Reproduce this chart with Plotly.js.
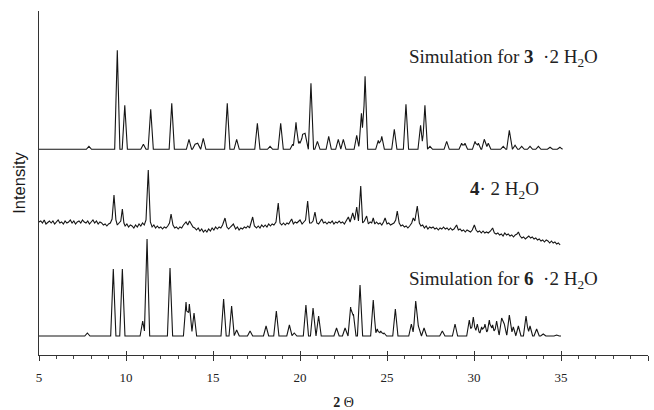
<!DOCTYPE html>
<html>
<head>
<meta charset="utf-8">
<script src="https://cdn.plot.ly/plotly-3.0.1.min.js"></script>
<style>
  html, body { margin: 0; padding: 0; background: #fff; }
  #chart { width: 654px; height: 410px; }
</style>
</head>
<body>
<div id="chart"></div>
<script>
// ---- Data (2θ in degrees, relative intensity) ----
// Simulated pattern for 3·2H2O: peak positions and heights
const sim3Pos = [7.87, 9.50, 9.93, 11.00, 11.42, 12.63, 13.62, 13.97, 14.12, 14.44,
  15.82, 16.36, 17.55, 18.28, 18.89, 19.58, 19.77, 19.96, 20.15, 20.29,
  20.63, 21.00, 21.65, 22.20, 22.49, 23.26, 23.53, 23.74, 24.50, 24.70,
  25.42, 26.09, 26.93, 27.18, 27.47, 28.43, 29.29, 29.48, 30.06, 30.25,
  30.59, 30.82, 31.68, 32.03, 32.36, 32.74, 33.22, 33.70, 34.37, 34.94];
const sim3Int = [3, 99, 44, 5, 40, 46, 10, 5, 6, 11,
  46, 10, 26, 3, 26, 5, 27, 8, 15, 16,
  66, 8, 13, 10, 10, 14, 36, 73, 9, 13,
  20, 45, 24, 44, 3, 8, 6, 6, 8, 6,
  10, 6, 3, 19, 4, 3, 3, 3, 2, 2];

// Measured pattern for 4·2H2O (noisy experimental trace)
const exp4X = [5.0,5.1,5.2,5.3,5.4,5.5,5.6,5.7,5.8,5.9,6.0,6.1,6.2,6.3,6.4,6.5,6.6,6.7,6.8,6.9,
  7.0,7.1,7.2,7.3,7.4,7.5,7.6,7.7,7.8,7.9,8.0,8.1,8.2,8.3,8.4,8.5,8.6,8.7,8.8,8.9,9.0,
  9.1,9.2,9.31,9.42,9.5,9.6,9.7,9.79,9.88,9.95,10.05,10.15,10.25,10.35,10.45,10.55,10.65,10.75,10.85,10.95,
  11.05,11.15,11.28,11.4,11.5,11.6,11.7,11.8,11.9,12.0,12.1,12.2,12.3,12.4,12.5,12.59,12.7,12.8,12.9,13.0,
  13.1,13.2,13.3,13.45,13.55,13.65,13.75,13.85,13.95,14.05,14.15,14.25,14.35,14.45,14.55,14.65,14.75,14.85,14.95,
  15.05,15.15,15.25,15.35,15.45,15.55,15.69,15.8,15.9,16.0,16.17,16.3,16.4,16.5,16.6,16.7,16.8,16.9,17.0,17.1,
  17.18,17.28,17.38,17.5,17.6,17.7,17.8,17.9,18.0,18.1,18.2,18.3,18.4,18.5,18.62,18.75,18.85,18.95,19.05,19.15,
  19.25,19.35,19.52,19.62,19.72,19.82,20.0,20.12,20.22,20.32,20.44,20.55,20.65,20.75,20.86,20.97,21.07,21.15,21.25,
  21.35,21.45,21.55,21.65,21.75,21.85,21.95,22.05,22.15,22.25,22.35,22.45,22.55,22.65,22.78,22.88,23.03,23.14,23.26,
  23.36,23.49,23.6,23.7,23.83,23.93,24.03,24.12,24.21,24.3,24.4,24.5,24.6,24.7,24.8,24.89,25.0,25.1,25.2,25.3,25.4,
  25.5,25.59,25.7,25.8,25.9,26.0,26.1,26.2,26.3,26.42,26.51,26.6,26.74,26.86,26.95,27.05,27.15,27.25,27.35,27.45,
  27.55,27.65,27.75,27.85,27.95,28.05,28.15,28.25,28.35,28.45,28.55,28.65,28.75,28.85,29.0,29.1,29.2,29.3,29.4,29.5,
  29.6,29.7,29.8,29.9,30.02,30.12,30.22,30.32,30.42,30.52,30.62,30.72,30.82,30.95,31.07,31.17,31.27,31.37,31.47,31.57,
  31.67,31.77,31.87,31.97,32.07,32.17,32.27,32.37,32.47,32.55,32.65,32.75,32.85,32.95,33.05,33.15,33.25,33.35,33.45,
  33.55,33.65,33.75,33.85,33.95,34.05,34.15,34.25,34.35,34.45,34.55,34.65,34.75,34.85,34.95];
const exp4Y = [0,1,-1,2,-2,0,1,-1,1,-2,0,2,-1,0,-2,1,-1,0,2,-1,
  1,-2,0,1,-1,2,0,-1,1,-2,0,2,-1,1,-2,0,-1,-3,-2,-4,-2,
  -1,3,27,2,-3,-1,1,13,-1,-4,-2,-5,-3,-4,-6,-3,-5,-2,-4,-1,
  -3,2,52,0,-5,-3,-6,-4,-6,-5,-7,-5,-6,-4,-1,8,-3,-6,-5,-7,
  -5,-6,-3,0,-3,1,-2,-5,-6,-8,-6,-9,-7,-10,-8,-10,-7,-9,-6,
  -8,-5,-7,-5,-6,-3,4,-5,-7,-5,-2,-7,-5,-8,-6,-7,-5,-6,-4,-6,
  -2,5,-4,-6,-4,-6,-3,-5,-3,-5,-2,-4,-2,-3,0,19,-1,-3,-1,-3,
  -1,-2,3,-2,0,-1,2,-2,0,2,21,-1,-1,1,10,-1,-2,1,3,
  -1,0,-2,0,-1,1,-2,0,-1,1,-1,0,-2,1,5,0,9,2,15,
  1,36,-1,1,6,-2,0,-1,4,-2,0,-2,-1,-3,0,4,-2,-1,-3,-2,-1,
  2,11,-1,-4,-3,-5,-4,-6,-4,-1,4,1,16,-1,-4,-3,-6,-4,-7,-5,
  -6,-5,-7,-6,-8,-6,-7,-5,-7,-6,-8,-6,-8,-7,-3,-8,-7,-9,-8,-10,
  -8,-9,-10,-8,-3,-8,-10,-9,-11,-9,-11,-10,-11,-9,-6,-11,-12,-11,-13,-12,
  -14,-11,-13,-12,-14,-13,-15,-13,-12,-10,-14,-16,-15,-17,-15,-14,-16,-15,-17,
  -16,-18,-17,-19,-18,-20,-18,-19,-21,-19,-21,-20,-22,-21,-23];

// Simulated pattern for 6·2H2O: peak positions and heights
const sim6Pos = [7.78, 9.27, 9.79, 10.96, 11.21, 12.53, 13.45, 13.64, 13.91, 15.61,
  16.07, 16.36, 17.13, 18.05, 18.64, 19.39, 19.67, 20.34, 20.75, 21.07,
  22.10, 22.59, 22.91, 23.07, 23.45, 24.21, 24.44, 24.64, 24.83, 25.48,
  26.40, 26.65, 26.80, 27.13, 28.18, 28.91, 29.73, 29.96, 30.19, 30.44,
  30.63, 30.88, 31.07, 31.30, 31.59, 31.74, 32.03, 32.26, 32.55, 32.99,
  33.22, 33.60, 33.98, 34.75];
const sim6Int = [3, 67, 67, 15, 97, 68, 34, 32, 23, 37,
  30, 6, 5, 10, 25, 11, 3, 31, 28, 20,
  8, 8, 29, 22, 51, 36, 7, 5, 3, 27,
  12, 35, 10, 8, 5, 12, 16, 19, 12, 9,
  12, 16, 11, 15, 18, 12, 21, 9, 10, 20,
  10, 7, 2, 1];

const xStart = 5, xEnd = 35;
const tickLabels = ['5', '10', '15', '20', '25', '30', '35', '40'];
const tickValues = [5, 10, 15, 20, 25, 30, 35, 40];

// ---- Layout constants (vertical stacking offsets, peak drawing half-width) ----
const OFF_TOP = 205.7, OFF_MID = 133, OFF_BOT = 19;
const HW = 0.15;

function stickPattern(pos, inten, offset) {
  const xs = [xStart, xEnd];
  pos.forEach(p => { xs.push(p - HW, p, p + HW); });
  xs.sort((a, b) => a - b);
  const ys = xs.map(x => {
    let m = 0;
    pos.forEach((p, i) => {
      const v = inten[i] * Math.max(0, 1 - Math.abs(x - p) / HW);
      if (v > m) m = v;
    });
    return m + offset;
  });
  return { x: xs, y: ys };
}

const patTop = stickPattern(sim3Pos, sim3Int, OFF_TOP);
const patBot = stickPattern(sim6Pos, sim6Int, OFF_BOT);
const lineStyle = { color: '#151515', width: 1.1 };

const traces = [
  { x: patTop.x, y: patTop.y, type: 'scatter', mode: 'lines', line: lineStyle, hoverinfo: 'skip' },
  { x: exp4X, y: exp4Y.map(v => v + OFF_MID), type: 'scatter', mode: 'lines', line: lineStyle, hoverinfo: 'skip' },
  { x: patBot.x, y: patBot.y, type: 'scatter', mode: 'lines', line: lineStyle, hoverinfo: 'skip' },
  { x: [], y: [], xaxis: 'x2', yaxis: 'y', type: 'scatter', mode: 'lines', hoverinfo: 'skip' }
];

const serif = '"Liberation Serif", "Times New Roman", serif';
const nb = '\u00a0';

const layout = {
  width: 654, height: 410,
  margin: { l: 39, r: 6, t: 11, b: 55 },
  paper_bgcolor: '#ffffff', plot_bgcolor: '#ffffff',
  showlegend: false,
  xaxis: {
    range: [5, 40], showgrid: false, zeroline: false,
    showline: true, linecolor: '#333', linewidth: 1,
    tickmode: 'array', tickvals: tickValues, ticktext: tickLabels,
    ticks: 'outside', ticklen: 5, tickcolor: '#333', tickwidth: 1,
    minor: { dtick: 1, tick0: 5, ticks: 'outside', ticklen: 3, tickcolor: '#444' },
    tickfont: { family: serif, size: 13, color: '#222' },
    ticklabelstandoff: 5,
    title: { text: '<b>2</b> Θ', font: { family: serif, size: 14, color: '#222' }, standoff: 14 },
    automargin: false
  },
  xaxis2: {
    range: [5, 40], overlaying: 'x', anchor: 'y', side: 'bottom',
    showgrid: false, zeroline: false, showline: false, showticklabels: false,
    tickmode: 'array', tickvals: tickValues,
    ticks: 'inside', ticklen: 4, tickcolor: '#333', tickwidth: 1
  },
  yaxis: {
    range: [0, 344], showgrid: false, zeroline: false,
    showline: true, linecolor: '#333', linewidth: 1,
    ticks: '', showticklabels: false,
    title: { text: 'Intensity', font: { family: '"Liberation Sans", Arial, sans-serif', size: 16.5, color: '#1a1a1a' }, standoff: 8 },
    automargin: false
  },
  annotations: [
    { xref: 'x', yref: 'y', x: 26.13, y: 297, xanchor: 'left', yanchor: 'middle', showarrow: false,
      text: 'Simulation for <b>3</b>' + nb + nb + '·2 H<sub>2</sub>O',
      font: { family: serif, size: 19, color: '#222' } },
    { xref: 'x', yref: 'y', x: 29.67, y: 165, xanchor: 'left', yanchor: 'middle', showarrow: false,
      text: '<b>4</b>·' + nb + '2 H<sub>2</sub>O',
      font: { family: serif, size: 19, color: '#222' } },
    { xref: 'x', yref: 'y', x: 26.15, y: 75, xanchor: 'left', yanchor: 'middle', showarrow: false,
      text: 'Simulation for <b>6</b>' + nb + nb + '·2 H<sub>2</sub>O',
      font: { family: serif, size: 19, color: '#222' } }
  ]
};

Plotly.newPlot('chart', traces, layout, { staticPlot: true, displayModeBar: false });
</script>
</body>
</html>
